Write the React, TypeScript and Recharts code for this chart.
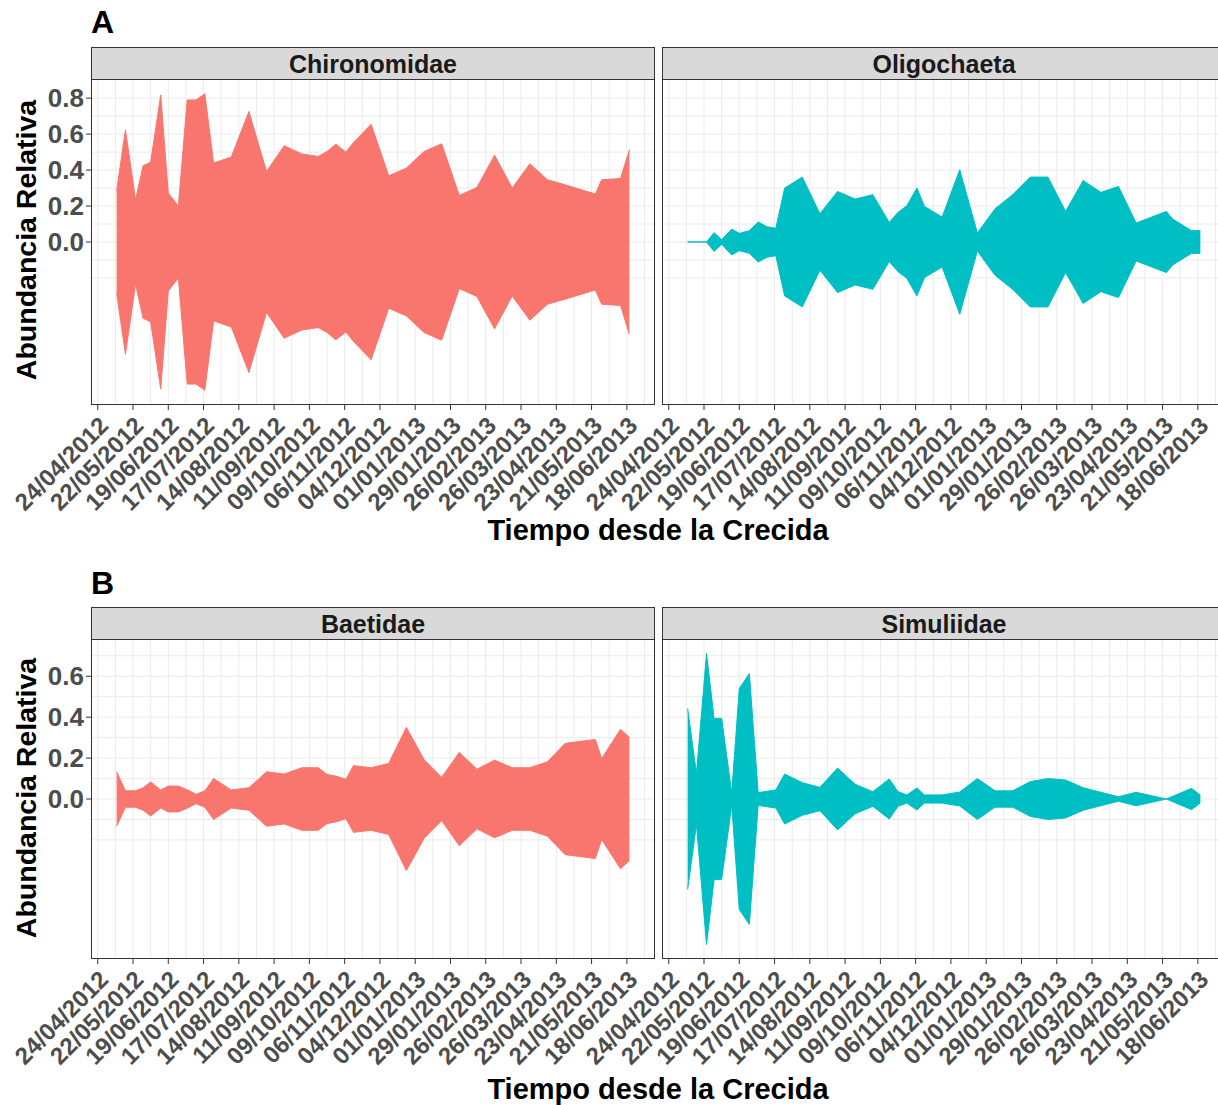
import React from 'react';
import { AreaChart, Area, XAxis, YAxis, CartesianGrid } from 'recharts';

// Sampling dates: days since 24/04/2012
const sampleDays = [15, 22, 30, 36, 42, 50, 56, 64, 71, 78, 85, 92, 106, 120, 134, 148, 162, 175, 182, 189, 197, 203, 217, 231, 245, 259, 273, 287, 301, 315, 329, 343, 357, 371, 395, 400, 415, 422];

const chironomidae = [0.285, 0.624, 0.235, 0.424, 0.444, 0.818, 0.272, 0.2, 0.79, 0.79, 0.824, 0.439, 0.472, 0.726, 0.392, 0.535, 0.49, 0.476, 0.503, 0.544, 0.5, 0.553, 0.655, 0.368, 0.411, 0.503, 0.546, 0.259, 0.303, 0.483, 0.3, 0.435, 0.346, 0.318, 0.267, 0.346, 0.353, 0.513];
const oligochaeta = [0, 0, 0, 0.052, 0.013, 0.072, 0.048, 0.063, 0.111, 0.085, 0.076, 0.3, 0.361, 0.157, 0.281, 0.239, 0.263, 0.109, 0.165, 0.202, 0.3, 0.198, 0.139, 0.402, 0.05, 0.185, 0.263, 0.361, 0.361, 0.17, 0.342, 0.276, 0.309, 0.106, 0.17, 0.128, 0.063, 0.063];
const baetidae = [0.133, 0.04, 0.04, 0.055, 0.083, 0.044, 0.063, 0.063, 0.045, 0.023, 0.04, 0.1, 0.044, 0.055, 0.133, 0.122, 0.153, 0.153, 0.12, 0.112, 0.096, 0.163, 0.153, 0.174, 0.35, 0.193, 0.106, 0.228, 0.146, 0.19, 0.153, 0.153, 0.182, 0.272, 0.291, 0.198, 0.341, 0.301];
const simuliidae = [0.442, 0.125, 0.711, 0.394, 0.394, 0.03, 0.54, 0.613, 0.031, 0.038, 0.044, 0.122, 0.08, 0.057, 0.151, 0.072, 0.036, 0.098, 0.036, 0.02, 0.054, 0.02, 0.02, 0.034, 0.1, 0.04, 0.04, 0.085, 0.1, 0.093, 0.055, 0.033, 0.011, 0.033, 0, 0.013, 0.052, 0.018];

const tickDays = [0, 28, 56, 84, 112, 140, 168, 196, 224, 252, 280, 308, 336, 364, 392, 420];
const tickLabels = ['24/04/2012', '22/05/2012', '19/06/2012', '17/07/2012', '14/08/2012', '11/09/2012', '09/10/2012', '06/11/2012', '04/12/2012', '01/01/2013', '29/01/2013', '26/02/2013', '26/03/2013', '23/04/2013', '21/05/2013', '18/06/2013'];
const vGridDays = [0, 14, 28, 42, 56, 70, 84, 98, 112, 126, 140, 154, 168, 182, 196, 210, 224, 238, 252, 266, 280, 294, 308, 322, 336, 350, 364, 378, 392, 406, 420, 434];

const yTicksA = [0, 0.2, 0.4, 0.6, 0.8];
const yGridA = [-0.2, -0.1, 0, 0.1, 0.2, 0.3, 0.4, 0.5, 0.6, 0.7, 0.8];
const yTicksB = [0, 0.2, 0.4, 0.6];
const yGridB = [-0.2, -0.1, 0, 0.1, 0.2, 0.3, 0.4, 0.5, 0.6, 0.7];

const RED = '#F8766D';
const CYAN = '#00BFC4';
const FONT = '"Liberation Sans", Arial, Helvetica, sans-serif';

const X_DOMAIN: [number, number] = [15 - 0.05 * 407, 422 + 0.05 * 407];
const PLOT_W = 564;

const XTick = (props: any) => {
  const { x, y, payload } = props;
  const idx = tickDays.indexOf(payload.value);
  return (
    <g transform={`translate(${x},${y})`}>
      <text transform="rotate(-45)" textAnchor="end" x={0} y={0} dy={17} fill="#4D4D4D" fontSize={24} fontWeight="bold" fontFamily={FONT}>
        {tickLabels[idx]}
      </text>
    </g>
  );
};

type FacetProps = {
  values: number[];
  color: string;
  plotLeft: number;
  plotTop: number;
  plotH: number;
  yMax: number;
  yTicks: number[];
  yGrid: number[];
  showY: boolean;
  label: string;
};

function Facet({ values, color, plotLeft, plotTop, plotH, yMax, yTicks, yGrid, showY, label }: FacetProps) {
  const data = sampleDays.map((d, i) => ({ day: d, range: [-values[i], values[i]] }));
  const leftSpace = showY ? 91 : 120;
  const width = leftSpace + PLOT_W;
  const xAxisH = 115;
  return (
    <>
      <div
        style={{
          position: 'absolute',
          left: plotLeft,
          top: plotTop - 32,
          width: PLOT_W,
          height: 33,
          boxSizing: 'border-box',
          background: '#D9D9D9',
          border: '1px solid #333333',
          textAlign: 'center',
          fontFamily: FONT,
          fontWeight: 'bold',
          fontSize: 25,
          lineHeight: '33px',
          color: '#1A1A1A',
        }}
      >
        {label}
      </div>
      <div style={{ position: 'absolute', left: plotLeft - leftSpace, top: plotTop }}>
        <AreaChart
          width={width}
          height={plotH + xAxisH}
          data={data}
          margin={{ top: 0, right: 0, bottom: 0, left: showY ? 0 : leftSpace }}
        >
          <CartesianGrid stroke="#EBEBEB" strokeWidth={1} horizontalValues={yGrid} verticalValues={vGridDays} />
          <XAxis
            dataKey="day"
            type="number"
            domain={X_DOMAIN}
            allowDataOverflow
            ticks={tickDays}
            interval={0}
            height={xAxisH}
            axisLine={false}
            tickLine={{ stroke: '#333333' }}
            tickSize={5}
            tickMargin={5}
            tick={<XTick />}
          />
          <YAxis
            type="number"
            domain={[-yMax, yMax]}
            allowDataOverflow
            ticks={yTicks}
            interval={0}
            width={91}
            hide={!showY}
            axisLine={false}
            tickLine={{ stroke: '#333333' }}
            tickSize={5}
            tickMargin={2}
            tickFormatter={(v: number) => v.toFixed(1)}
            tick={{ fill: '#4D4D4D', fontSize: 26, fontWeight: 'bold', fontFamily: FONT }}
          />
          <Area
            type="linear"
            dataKey="range"
            stroke={color}
            strokeWidth={1}
            fill={color}
            fillOpacity={1}
            isAnimationActive={false}
            dot={false}
            activeDot={false}
          />
        </AreaChart>
      </div>
      <div
        style={{
          position: 'absolute',
          left: plotLeft,
          top: plotTop,
          width: PLOT_W,
          height: plotH,
          boxSizing: 'border-box',
          border: '1px solid #333333',
          pointerEvents: 'none',
        }}
      />
    </>
  );
}

export default function App() {
  const aTop = 79;
  const aH = 326;
  const bTop = 639;
  const bH = 320;
  const yMaxA = 0.824 * 1.1;
  const yMaxB = 0.711 * 1.1;
  return (
    <div
      style={{
        position: 'absolute',
        left: 0,
        top: 0,
        width: 1218,
        height: 1105,
        overflow: 'hidden',
        background: '#FFFFFF',
        fontFamily: FONT,
      }}
    >
      <Facet values={chironomidae} color={RED} plotLeft={91} plotTop={aTop} plotH={aH} yMax={yMaxA} yTicks={yTicksA} yGrid={yGridA} showY label="Chironomidae" />
      <Facet values={oligochaeta} color={CYAN} plotLeft={662} plotTop={aTop} plotH={aH} yMax={yMaxA} yTicks={yTicksA} yGrid={yGridA} showY={false} label="Oligochaeta" />
      <Facet values={baetidae} color={RED} plotLeft={91} plotTop={bTop} plotH={bH} yMax={yMaxB} yTicks={yTicksB} yGrid={yGridB} showY label="Baetidae" />
      <Facet values={simuliidae} color={CYAN} plotLeft={662} plotTop={bTop} plotH={bH} yMax={yMaxB} yTicks={yTicksB} yGrid={yGridB} showY={false} label="Simuliidae" />
      <svg width={1218} height={1105} style={{ position: 'absolute', left: 0, top: 0, pointerEvents: 'none' }}>
        <text x={91} y={33} fontSize={32} fontWeight="bold" fill="#000" fontFamily={FONT}>A</text>
        <text x={91} y={594} fontSize={32} fontWeight="bold" fill="#000" fontFamily={FONT}>B</text>
        <text x={658} y={540} textAnchor="middle" fontSize={29} fontWeight="bold" fill="#000" fontFamily={FONT}>Tiempo desde la Crecida</text>
        <text x={658} y={1099} textAnchor="middle" fontSize={29} fontWeight="bold" fill="#000" fontFamily={FONT}>Tiempo desde la Crecida</text>
        <text transform="translate(35.5,240) rotate(-90)" textAnchor="middle" fontSize={28.5} fontWeight="bold" fill="#000" fontFamily={FONT}>Abundancia Relativa</text>
        <text transform="translate(35.5,798) rotate(-90)" textAnchor="middle" fontSize={28.5} fontWeight="bold" fill="#000" fontFamily={FONT}>Abundancia Relativa</text>
      </svg>
    </div>
  );
}
